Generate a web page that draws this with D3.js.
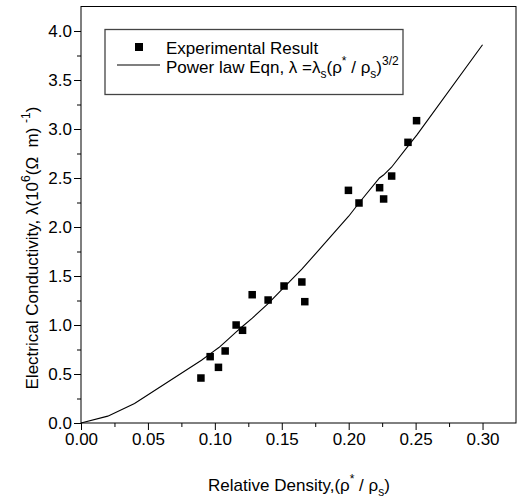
<!DOCTYPE html>
<html>
<head>
<meta charset="utf-8">
<script src="https://cdn.jsdelivr.net/npm/d3@7"></script>
<style>
  body { margin: 0; background: #fff; }
  text { font-family: "Liberation Sans", Arial, sans-serif; fill: #000; white-space: pre; }
</style>
</head>
<body>
<svg id="chart" width="517" height="500"></svg>
<script>
// measured points
const densX = [0.0896, 0.0965, 0.1027, 0.1077, 0.1159, 0.1207, 0.1279, 0.1398, 0.1517,
               0.165, 0.1672, 0.1998, 0.2077, 0.2231, 0.2261, 0.2321, 0.2443, 0.2507];
const condY = [0.459, 0.677, 0.568, 0.735, 1.0, 0.946, 1.309, 1.255, 1.398,
               1.439, 1.238, 2.374, 2.245, 2.401, 2.286, 2.52, 2.864, 3.085];

// power law curve as drawn
const fitX = [0, 0.02, 0.04, 0.09, 0.097, 0.103, 0.108, 0.116, 0.121, 0.128, 0.14, 0.152,
              0.165, 0.167, 0.2, 0.208, 0.223, 0.226, 0.232, 0.244, 0.251, 0.30];
const fitY = [0, 0.07, 0.20, 0.64, 0.71, 0.77, 0.83, 0.93, 0.99, 1.07, 1.22, 1.39,
              1.57, 1.60, 2.11, 2.25, 2.50, 2.53, 2.61, 2.82, 2.94, 3.86];

const xTicks = [0, 0.05, 0.10, 0.15, 0.20, 0.25, 0.30];
const yTicks = [0, 0.5, 1.0, 1.5, 2.0, 2.5, 3.0, 3.5, 4.0];

const margin = {top: 6.5, right: 1, bottom: 77, left: 81};
const svg = d3.select("#chart");
const width = +svg.attr("width") - margin.left - margin.right;
const height = +svg.attr("height") - margin.top - margin.bottom;

const x = d3.scaleLinear().domain([0, 0.325]).range([0, width]);
const y = d3.scaleLinear().domain([0, 4.25]).range([height, 0]);

const g = svg.append("g").attr("transform", "translate(" + margin.left + "," + margin.top + ")");

// frame
g.append("rect")
  .attr("width", width).attr("height", height)
  .attr("fill", "none").attr("stroke", "#000").attr("stroke-width", 1);

// minor ticks first, then major with labels
g.append("g").attr("transform", "translate(0," + height + ")")
  .call(d3.axisBottom(x).tickValues(d3.range(0.025, 0.325, 0.05)).tickSize(4).tickFormat(""))
  .call(a => a.select(".domain").remove());
const xa = g.append("g").attr("transform", "translate(0," + height + ")")
  .call(d3.axisBottom(x).tickValues(xTicks).tickSize(7).tickPadding(3).tickFormat(d3.format(".2f")));
xa.select(".domain").remove();
xa.selectAll("text").attr("font-size", 17).attr("font-family", "Liberation Sans, Arial, sans-serif");

g.append("g")
  .call(d3.axisLeft(y).tickValues(d3.range(0.25, 4.25, 0.5)).tickSize(4).tickFormat(""))
  .call(a => a.select(".domain").remove());
const ya = g.append("g")
  .call(d3.axisLeft(y).tickValues(yTicks).tickSize(7).tickPadding(2).tickFormat(d3.format(".1f")));
ya.select(".domain").remove();
ya.selectAll("text").attr("font-size", 17).attr("font-family", "Liberation Sans, Arial, sans-serif");

// curve
const pts = fitX.map((v, i) => [v, fitY[i]]);
g.append("path")
  .datum(pts)
  .attr("fill", "none").attr("stroke", "#000").attr("stroke-width", 1.1)
  .attr("d", d3.line().x(d => x(d[0])).y(d => y(d[1])));

// squares
const sz = 7.5;
g.selectAll(".pt")
  .data(densX.map((v, i) => [v, condY[i]]))
  .enter().append("rect")
  .attr("class", "pt")
  .attr("x", d => x(d[0]) - sz / 2)
  .attr("y", d => y(d[1]) - sz / 2)
  .attr("width", sz).attr("height", sz)
  .attr("fill", "#000");

// legend
const lg = svg.append("g");
lg.append("rect")
  .attr("x", 105).attr("y", 29.5).attr("width", 298).attr("height", 65)
  .attr("fill", "#fff").attr("stroke", "#444").attr("stroke-width", 1.3);
lg.append("rect").attr("x", 135).attr("y", 43).attr("width", 8).attr("height", 8).attr("fill", "#000");
lg.append("text").attr("x", 166).attr("y", 54).attr("font-size", 17).text("Experimental Result");
lg.append("line").attr("x1", 117).attr("x2", 160).attr("y1", 65).attr("y2", 65)
  .attr("stroke", "#000").attr("stroke-width", 1.1);
const t2 = lg.append("text").attr("x", 166).attr("y", 73).attr("font-size", 17);
t2.append("tspan").text("Power law Eqn, \u03bb =\u03bb");
t2.append("tspan").attr("dy", 5).attr("font-size", 12).text("s");
t2.append("tspan").attr("dy", -5).text("(\u03c1");
t2.append("tspan").attr("dy", -8).attr("font-size", 12).text("*");
t2.append("tspan").attr("dy", 8).text(" / \u03c1");
t2.append("tspan").attr("dy", 5).attr("font-size", 12).text("s");
t2.append("tspan").attr("dy", -5).text(")");
t2.append("tspan").attr("dy", -8).attr("font-size", 12).text("3/2");

// axis titles
const xt = svg.append("text").attr("x", 299).attr("y", 491)
  .attr("text-anchor", "middle").attr("font-size", 17);
xt.append("tspan").text("Relative Density,(\u03c1");
xt.append("tspan").attr("dy", -8).attr("font-size", 12).text("*");
xt.append("tspan").attr("dy", 8).text(" / \u03c1");
xt.append("tspan").attr("dy", 5).attr("font-size", 12).text("s");
xt.append("tspan").attr("dy", -5).text(")");

const yt = svg.append("text")
  .attr("transform", "translate(38,248) rotate(-90)")
  .attr("text-anchor", "middle").attr("font-size", 17);
yt.append("tspan").text("Electrical Conductivity, \u03bb(10");
yt.append("tspan").attr("dy", -8).attr("font-size", 12).text("6");
yt.append("tspan").attr("dy", 8).text("(\u03a9  m) ");
yt.append("tspan").attr("dy", -8).attr("font-size", 12).text("-1");
yt.append("tspan").attr("dy", 8).text(")");
</script>
</body>
</html>
